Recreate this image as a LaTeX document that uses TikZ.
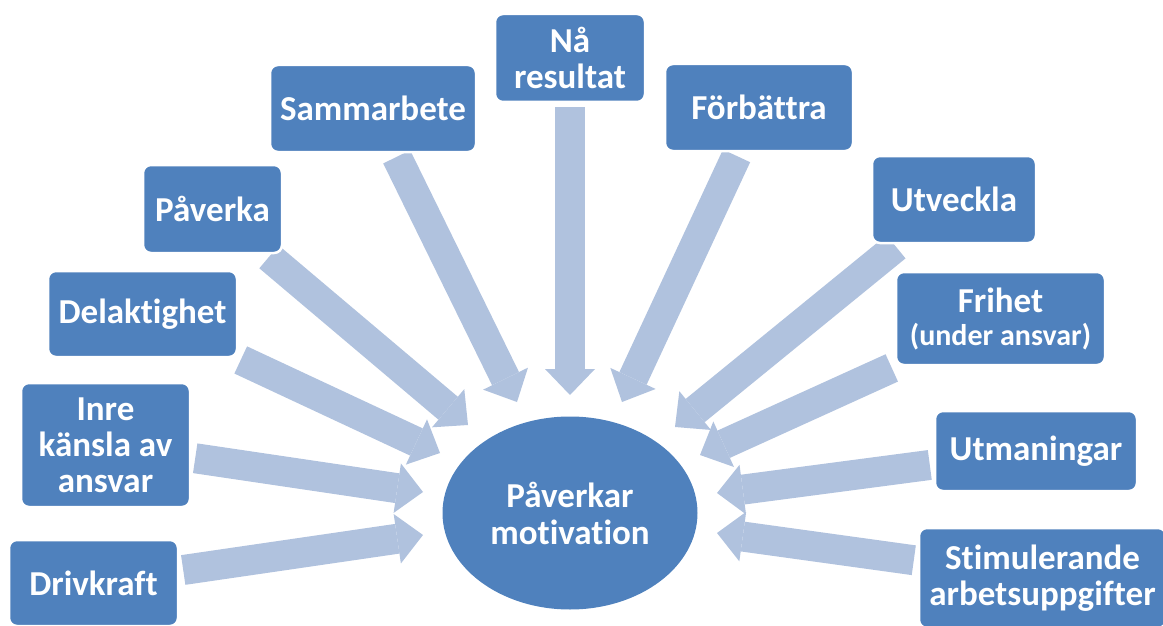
\documentclass[tikz,border=0pt]{standalone}
\usepackage{fontspec}
\setmainfont{Carlito}[Ligatures=NoCommon]
\usepackage{xcolor}
\usetikzlibrary{arrows.meta,backgrounds,shapes.geometric}

\definecolor{boxblue}{RGB}{79,129,189}
\definecolor{arrowblue}{RGB}{176,194,222}

\begin{document}
\begin{tikzpicture}[x=1pt, y=-1pt,
        box/.style = {rectangle, rounded corners=8pt, fill=boxblue, draw=white, line width=2.5pt,
            text=white, align=center, inner sep=0pt, font=\fontsize{35}{36}\selectfont\bfseries},
        goal/.style = {ellipse, fill=boxblue, text=white, align=center, inner sep=0pt,
            minimum width=255pt, minimum height=193pt, font=\fontsize{35}{37}\selectfont\bfseries},
        bigarrow/.style = {draw=arrowblue, line width=30pt, shorten <=4pt,
            -{Triangle[length=26pt 0 0, width=50pt 0 0, line width=0pt 0 0]}},
    ]
    \useasboundingbox (0,0) rectangle (1163,626);
    \node [goal] (mot) at (570,513) {Påverkar\\motivation};
    \node [box, minimum width=169pt, minimum height=86pt] (drv) at (93.5,583) {Drivkraft};
    \node [box, minimum width=169pt, minimum height=124pt] (inr) at (105.5,445) {Inre\\känsla av\\ansvar};
    \node [box, minimum width=189pt, minimum height=86pt] (del) at (142.5,314) {Delaktighet};
    \node [box, minimum width=139pt, minimum height=88pt] (pav) at (212.5,209) {Påverka};
    \node [box, minimum width=206pt, minimum height=87pt] (sam) at (373,108.5) {Sammarbete};
    \node [box, minimum width=150pt, minimum height=88pt] (na) at (570,58) {Nå\\resultat};
    \node [box, minimum width=188pt, minimum height=87pt] (for) at (759,107.5) {Förbättra};
    \node [box, minimum width=164pt, minimum height=87pt] (utv) at (954,199.5) {Utveckla};
    \node [box, minimum width=209pt, minimum height=93pt] (fri) at (1000.5,318.5)
        {Frihet\\[-3pt]{\fontsize{30}{33}\selectfont (under ansvar)}};
    \node [box, minimum width=202pt, minimum height=80pt] (utm) at (1036,451) {Utmaningar};
    \node [box, minimum width=247pt, minimum height=100pt] (sti) at (1042.5,578) {Stimulerande\\arbetsuppgifter};
    \coordinate (tdrv) at (423,535);
    \coordinate (tinr) at (423,492);
    \coordinate (tdel) at (440,453);
    \coordinate (tpav) at (468,425);
    \coordinate (tsam) at (517,402);
    \coordinate (tna) at (570,395);
    \coordinate (tfor) at (622,402);
    \coordinate (tutv) at (675,427);
    \coordinate (tfri) at (700,455);
    \coordinate (tutm) at (717,493);
    \coordinate (tsti) at (717,533);
    \begin{scope}[on background layer]
        \draw [bigarrow] (drv) -- (tdrv);
        \draw [bigarrow] (inr) -- (tinr);
        \draw [bigarrow] (del) -- (tdel);
        \draw [bigarrow] (pav) -- (tpav);
        \draw [bigarrow] (sam) -- (tsam);
        \draw [bigarrow] (na) -- (tna);
        \draw [bigarrow] (for) -- (tfor);
        \draw [bigarrow] (utv) -- (tutv);
        \draw [bigarrow] (fri) -- (tfri);
        \draw [bigarrow] (utm) -- (tutm);
        \draw [bigarrow] (sti) -- (tsti);
    \end{scope}
\end{tikzpicture}
\end{document}
